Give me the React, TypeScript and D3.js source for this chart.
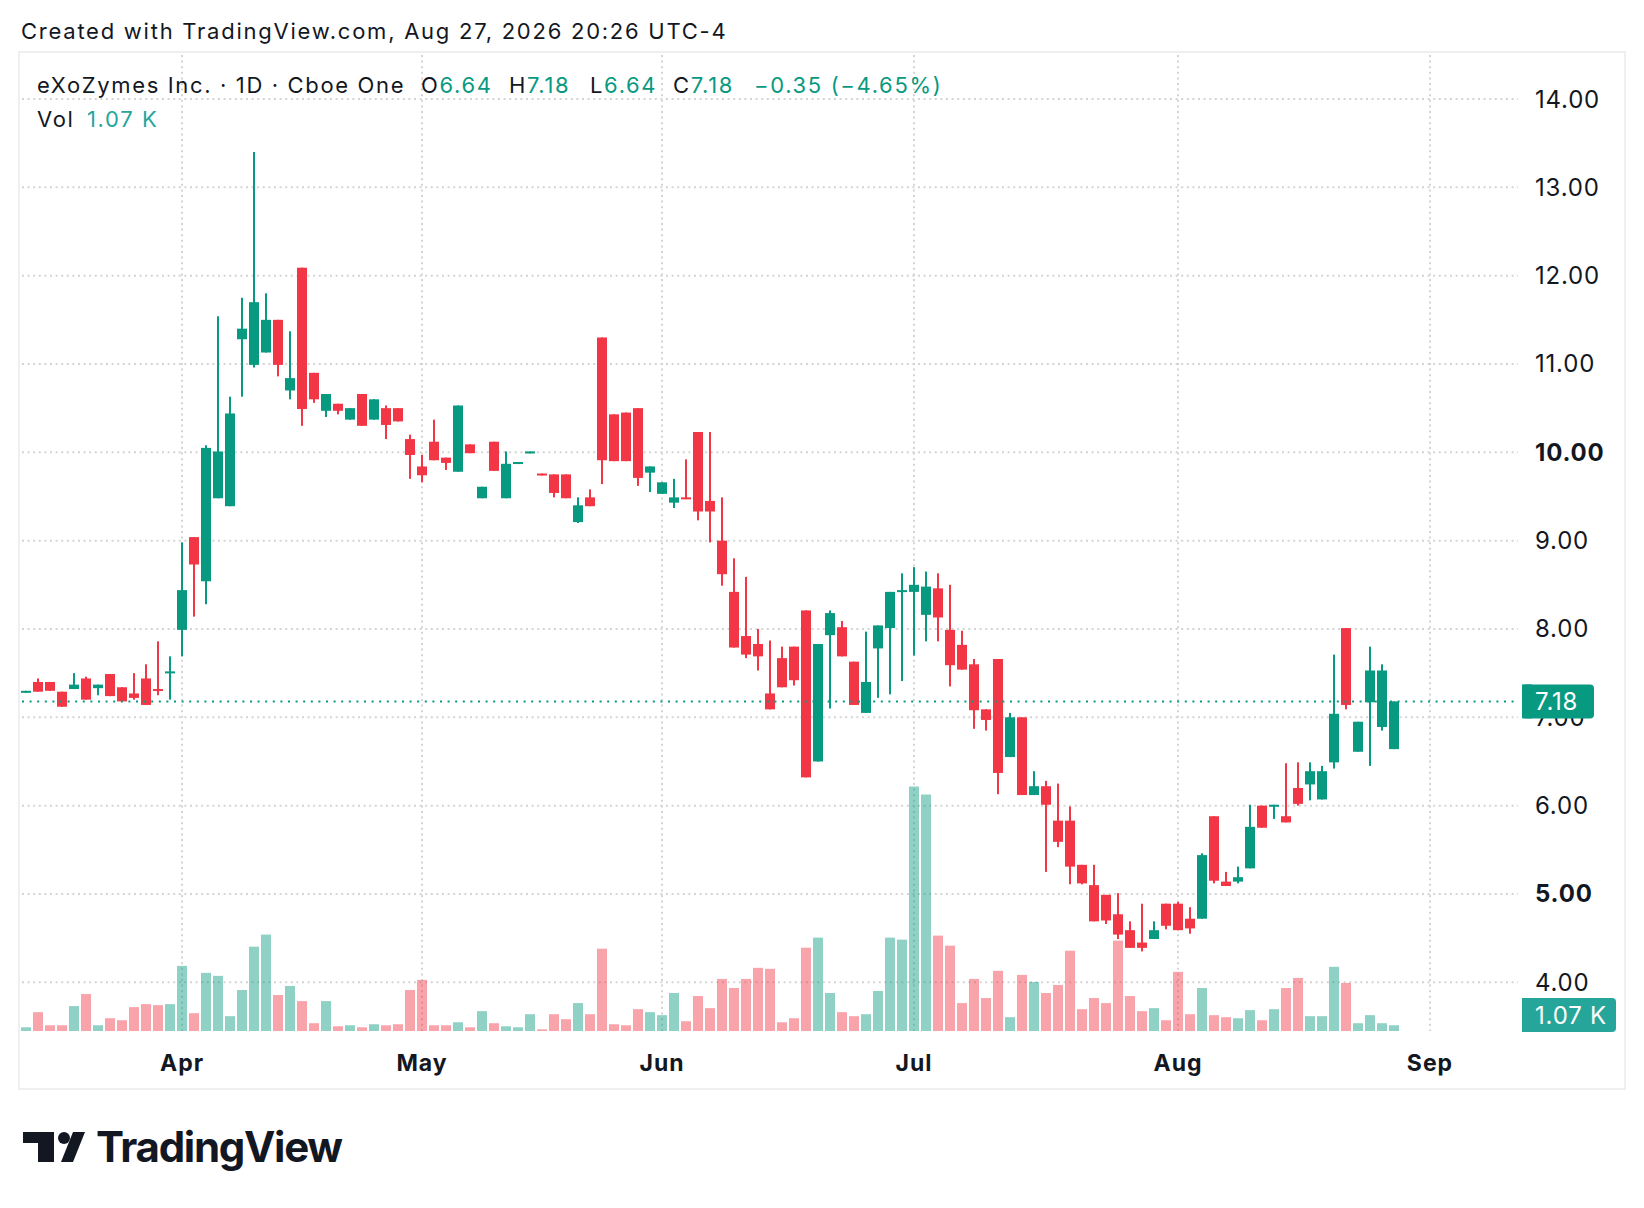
import * as d3 from 'd3';

// daily bars, mid-March to Aug 27 (one entry per trading bar)
const opens = [
  7.29, 7.40, 7.40, 7.29, 7.32, 7.44, 7.33, 7.49, 7.34, 7.27, 7.44, 7.32, 7.50,
  7.99, 9.04, 8.54, 9.48, 9.39, 11.28, 10.99, 11.13, 11.50, 10.70, 12.09, 10.90, 10.47, 10.55, 10.37, 10.66, 10.37, 10.50, 10.50, 10.15,
  9.84, 10.12, 9.94, 9.78, 10.09, 9.48, 10.12, 9.48, 9.87, 10.00, 9.76, 9.75, 9.75, 9.21, 9.49, 11.30, 10.43, 10.45, 10.50, 9.77,
  9.53, 9.43, 9.49, 10.23, 9.45, 9.00, 8.42, 7.92, 7.83, 7.27, 7.67, 7.80, 8.21, 6.50, 7.93, 8.02, 7.63, 7.05, 7.78, 8.01, 8.42,
  8.42, 8.16, 8.46, 7.99, 7.82, 7.60, 7.09, 7.66, 6.55, 7.00, 6.12, 6.22, 5.83, 5.83, 5.33, 5.10, 4.99, 4.77, 4.59, 4.45, 4.49, 4.89,
  4.89, 4.72, 4.72, 5.88, 5.14, 5.14, 5.29, 6.00, 5.99, 5.88, 6.20, 6.24, 6.07, 6.49, 8.01, 6.61, 7.17, 6.89, 6.64,
];
const highs = [
  7.30, 7.44, 7.40, 7.29, 7.50, 7.46, 7.37, 7.49, 7.34, 7.50, 7.60, 7.86, 7.69,
  8.98, 9.04, 10.08, 11.54, 10.63, 11.75, 13.40, 11.80, 11.50, 11.37, 12.09, 10.90, 10.66, 10.55, 10.50, 10.66, 10.60, 10.53, 10.50, 10.20,
  9.97, 10.37, 9.94, 10.53, 10.09, 9.61, 10.12, 10.01, 9.89, 10.01, 9.76, 9.75, 9.75, 9.49, 9.58, 11.30, 10.43, 10.45, 10.50, 9.84,
  9.66, 9.70, 9.92, 10.23, 10.23, 9.49, 8.80, 8.59, 8.00, 7.87, 7.80, 7.80, 8.21, 7.83, 8.21, 8.09, 7.63, 7.97, 8.04, 8.42, 8.63,
  8.70, 8.65, 8.63, 8.50, 7.98, 7.66, 7.09, 7.66, 7.05, 7.00, 6.39, 6.28, 6.25, 5.99, 5.33, 5.33, 4.99, 5.01, 4.69, 4.89, 4.69, 4.89,
  4.91, 4.85, 5.46, 5.88, 5.25, 5.31, 6.01, 6.00, 6.01, 6.48, 6.49, 6.49, 6.45, 7.71, 8.01, 6.95, 7.80, 7.60, 7.18,
];
const lows = [
  7.29, 7.29, 7.30, 7.12, 7.32, 7.20, 7.25, 7.24, 7.18, 7.20, 7.14, 7.25, 7.20,
  7.69, 8.14, 8.28, 9.48, 9.39, 10.63, 10.96, 11.13, 10.86, 10.60, 10.30, 10.56, 10.40, 10.43, 10.37, 10.30, 10.37, 10.15, 10.35, 9.70,
  9.66, 9.91, 9.80, 9.78, 9.99, 9.48, 9.79, 9.48, 9.87, 10.00, 9.75, 9.49, 9.48, 9.20, 9.39, 9.64, 9.90, 9.90, 9.62, 9.55,
  9.53, 9.37, 9.47, 9.23, 8.98, 8.49, 7.79, 7.67, 7.53, 7.09, 7.34, 7.36, 6.32, 6.50, 7.10, 7.69, 7.14, 7.05, 7.22, 7.26, 7.41,
  7.70, 7.86, 7.86, 7.35, 7.54, 6.87, 6.85, 6.13, 6.55, 6.12, 6.12, 5.25, 5.53, 5.11, 5.11, 4.69, 4.66, 4.49, 4.39, 4.35, 4.49, 4.60,
  4.59, 4.55, 4.72, 5.12, 5.09, 5.12, 5.29, 5.75, 5.85, 5.81, 6.00, 6.06, 6.07, 6.42, 7.09, 6.61, 6.45, 6.85, 6.64,
];
const closes = [
  7.30, 7.29, 7.30, 7.12, 7.37, 7.20, 7.37, 7.24, 7.18, 7.22, 7.14, 7.30, 7.52,
  8.44, 8.73, 10.05, 10.01, 10.44, 11.40, 11.70, 11.50, 10.99, 10.84, 10.49, 10.60, 10.66, 10.47, 10.50, 10.30, 10.60, 10.31, 10.35, 9.97,
  9.74, 9.91, 9.88, 10.53, 9.99, 9.61, 9.79, 9.87, 9.89, 10.01, 9.75, 9.54, 9.48, 9.40, 9.39, 9.91, 9.90, 9.90, 9.71, 9.84,
  9.66, 9.49, 9.47, 9.33, 9.33, 8.62, 7.79, 7.71, 7.69, 7.09, 7.34, 7.42, 6.32, 7.83, 8.18, 7.69, 7.14, 7.40, 8.04, 8.42, 8.44,
  8.50, 8.48, 8.13, 7.59, 7.54, 7.08, 6.97, 6.37, 7.00, 6.12, 6.22, 6.01, 5.59, 5.31, 5.12, 4.69, 4.70, 4.54, 4.39, 4.39, 4.59, 4.64,
  4.59, 4.61, 5.44, 5.15, 5.09, 5.19, 5.76, 5.75, 6.01, 5.81, 6.02, 6.39, 6.39, 7.04, 7.14, 6.95, 7.53, 7.53, 7.18,
];
// volume, thousands of shares
const volumes = [
  0.69, 3.51, 1.07, 1.07, 4.64, 6.89, 1.07, 2.38, 2.01, 4.45, 5.01, 4.82, 5.01,
  12.14, 3.32, 10.83, 10.27, 2.76, 7.64, 15.71, 17.96, 6.70, 8.39, 5.57, 1.45, 5.57, 0.88, 1.07, 0.69, 1.26, 1.07, 1.26, 7.64,
  9.52, 1.07, 1.07, 1.63, 0.69, 3.70, 1.45, 0.88, 0.69, 3.13, 0.32, 3.13, 2.20, 5.20, 3.13, 15.33, 1.26, 1.07, 4.07, 3.51,
  2.95, 7.08, 1.82, 6.51, 4.26, 9.70, 8.01, 9.70, 11.77, 11.58, 1.63, 2.38, 15.52, 17.40, 7.08, 3.51, 2.76, 3.13, 7.45, 17.40, 17.02,
  45.55, 44.05, 17.77, 15.90, 5.20, 9.70, 6.14, 11.21, 2.57, 10.45, 9.14, 7.08, 8.58, 14.96, 4.07, 6.14, 5.20, 16.84, 6.51, 3.70, 4.26, 2.01,
  11.02, 3.13, 8.01, 2.95, 2.57, 2.38, 3.89, 2.01, 4.07, 8.01, 9.89, 2.76, 2.76, 11.96, 8.95, 1.45, 2.95, 1.45, 1.07,
];

const monthLabels = ['Apr', 'May', 'Jun', 'Jul', 'Aug', 'Sep'];
const monthBarIndex = [13, 33, 53, 74, 96, 117];
const priceTicks = [4, 5, 6, 7, 8, 9, 10, 11, 12, 13, 14];
const boldTicks = [5, 10];

const UP = '#089981';
const DOWN = '#F23645';
const UP_VOL = 'rgba(8,153,129,0.45)';
const DOWN_VOL = 'rgba(242,54,69,0.45)';
const VOL_LABEL = '#26a69a';
const TEXT = '#131722';
const FONT = 'Inter, "Noto Sans", sans-serif';

export default function App() {
  const W = 1644;
  const H = 1208;
  const frame = { left: 20, top: 53, right: 1624, bottom: 1088 };
  const plotRight = 1518;
  const paneBottom = 1031;

  const slots = 125;
  const x = d3.scaleBand<number>()
    .domain(d3.range(slots))
    .range([frame.left, frame.left + slots * 12])
    .paddingInner(1 / 6)
    .paddingOuter(1 / 12);
  const bw = x.bandwidth();
  const cx = (i: number) => (x(i) ?? 0) + bw / 2;

  const y = d3.scaleLinear().domain([4, 14]).range([982.3, 99.0]);

  const vMax = d3.max(volumes) ?? 1;
  const yv = d3.scaleLinear()
    .domain([0, vMax])
    .range([paneBottom, paneBottom - 0.25 * (paneBottom - frame.top)]);

  const last = closes.length - 1;
  const lastClose = closes[last];
  const prevClose = closes[last - 1];
  const chg = lastClose - prevClose;
  const chgPct = (chg / prevClose) * 100;
  const fmt = (v: number) => v.toFixed(2);
  const signed = (v: number) => (v < 0 ? '\u2212' : '+') + Math.abs(v).toFixed(2);
  const lastUp = closes[last] >= opens[last];
  const legendColor = lastUp ? UP : DOWN;

  const axisX = 1535;
  const ls = 1.65; // header / legend tracking

  return (
    <svg
      width={W}
      height={H}
      viewBox={`0 0 ${W} ${H}`}
      style={{ position: 'absolute', left: 0, top: 0, background: '#fff', fontFamily: FONT }}
    >
      <rect x={0} y={0} width={W} height={H} fill="#fff" />

      <text x={21} y={39} fontSize={22} letterSpacing={1.75} fill={TEXT}>
        Created with TradingView.com, Aug 27, 2026 20:26 UTC-4
      </text>

      {/* frame */}
      <rect
        x={frame.left - 1}
        y={frame.top - 1}
        width={frame.right - frame.left + 2}
        height={frame.bottom - frame.top + 2}
        fill="none"
        stroke="#efefef"
        strokeWidth={2}
      />

      {/* grid */}
      <g stroke="#d4d4d4" strokeWidth={2} strokeDasharray="2 3.6">
        {priceTicks.map((p) => (
          <line key={`h${p}`} x1={frame.left + 2} x2={plotRight} y1={y(p)} y2={y(p)} />
        ))}
        {monthBarIndex.map((idx) => (
          <line key={`v${idx}`} x1={cx(idx)} x2={cx(idx)} y1={frame.top + 2} y2={paneBottom} />
        ))}
      </g>

      {/* volume */}
      <g>
        {volumes.map((v, i) => (
          <rect
            key={`vol${i}`}
            x={x(i)}
            y={yv(v)}
            width={bw}
            height={paneBottom - yv(v)}
            fill={closes[i] >= opens[i] ? UP_VOL : DOWN_VOL}
          />
        ))}
      </g>

      {/* candles */}
      <g>
        {opens.map((o, i) => {
          const c = closes[i];
          const up = c >= o;
          const col = up ? UP : DOWN;
          const top = y(Math.max(o, c));
          const bh = Math.max(2, Math.abs(y(o) - y(c)));
          return (
            <g key={`c${i}`}>
              <rect x={cx(i) - 1} y={y(highs[i])} width={2} height={Math.max(2, y(lows[i]) - y(highs[i]))} fill={col} />
              <rect x={x(i)} y={top} width={bw} height={bh} fill={col} />
            </g>
          );
        })}
      </g>

      {/* last price line */}
      <line
        x1={frame.left + 2}
        x2={plotRight}
        y1={y(lastClose)}
        y2={y(lastClose)}
        stroke={UP}
        strokeWidth={2}
        strokeDasharray="2 5.6"
      />

      {/* price axis */}
      <g fontSize={24} fill={TEXT} letterSpacing={0.8}>
        {priceTicks.map((p) => (
          <text
            key={`pt${p}`}
            x={axisX}
            y={y(p)}
            dominantBaseline="central"
            fontWeight={boldTicks.includes(p) ? 700 : 400}
          >
            {fmt(p)}
          </text>
        ))}
      </g>

      {/* last price label */}
      <g>
        <rect x={1522} y={y(lastClose) - 17} width={72} height={34} rx={4} fill={UP} />
        <rect x={1522} y={y(lastClose) - 17} width={10} height={34} fill={UP} />
        <text x={axisX} y={y(lastClose)} dominantBaseline="central" fontSize={24} letterSpacing={0.8} fill="#fff">
          {fmt(lastClose)}
        </text>
      </g>

      {/* last volume label */}
      <g>
        <rect x={1522} y={paneBottom - 33} width={94} height={34} rx={4} fill={VOL_LABEL} />
        <rect x={1522} y={paneBottom - 33} width={10} height={34} fill={VOL_LABEL} />
        <text x={axisX} y={paneBottom - 16} dominantBaseline="central" fontSize={24} letterSpacing={0.8} fill="#fff">
          {volumes[last].toFixed(2)} K
        </text>
      </g>

      {/* time axis */}
      <g fontSize={23} fontWeight={700} fill={TEXT} textAnchor="middle" letterSpacing={1}>
        {monthLabels.map((m, k) => (
          <text key={m} x={cx(monthBarIndex[k])} y={1071}>
            {m}
          </text>
        ))}
      </g>

      {/* legend */}
      <g fontSize={22} fill={TEXT} letterSpacing={ls}>
        <text x={37} y={93}>eXoZymes Inc. · 1D · Cboe One</text>
        <text x={421} y={93}>
          O<tspan fill={legendColor}>{fmt(opens[last])}</tspan>
        </text>
        <text x={509} y={93}>
          H<tspan fill={legendColor}>{fmt(highs[last])}</tspan>
        </text>
        <text x={590} y={93}>
          L<tspan fill={legendColor}>{fmt(lows[last])}</tspan>
        </text>
        <text x={673} y={93}>
          C<tspan fill={legendColor}>{fmt(closes[last])}</tspan>
        </text>
        <text x={754} y={93} fill={legendColor}>
          {signed(chg)} ({signed(chgPct)}%)
        </text>
        <text x={37} y={127}>Vol</text>
        <text x={87} y={127} fill={VOL_LABEL}>
          {volumes[last].toFixed(2)} K
        </text>
      </g>

      {/* logo */}
      <g fill={TEXT}>
        <path d="M23 1132 H54 V1162 H38 V1143 H23 Z" />
        <circle cx={64} cy={1138} r={6} />
        <path d="M73 1132 H85 L73 1162 H61 Z" />
        <text x={96} y={1162} fontSize={42} fontWeight={700} letterSpacing={-1.3}>
          TradingView
        </text>
      </g>
    </svg>
  );
}
